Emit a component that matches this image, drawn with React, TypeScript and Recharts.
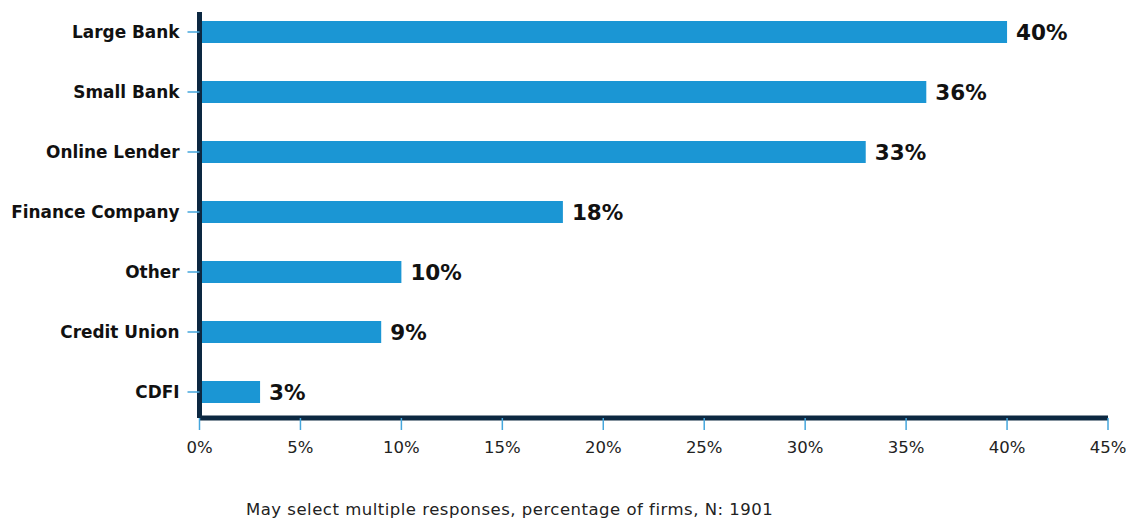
import React from 'react';
import { BarChart, Bar, XAxis, YAxis, LabelList } from 'recharts';

const categories = ['Large Bank', 'Small Bank', 'Online Lender', 'Finance Company', 'Other', 'Credit Union', 'CDFI'];
const shares = [40, 36, 33, 18, 10, 9, 3];
const xTicks = [0, 5, 10, 15, 20, 25, 30, 35, 40, 45];

const BAR_COLOR = '#1b96d4';
const AXIS_COLOR = '#0c2841';
const TICK_COLOR = '#45a6dc';
const FONT = '"DejaVu Sans", sans-serif';

const data = categories.map((name, i) => ({ name, value: shares[i] }));

export default function App() {
  return (
    <div style={{ position: 'relative', width: 1120, height: 510, fontFamily: FONT }}>
      <BarChart
        width={1120}
        height={450}
        data={data}
        layout="vertical"
        margin={{ top: 4, right: 20, left: 0, bottom: 0 }}
      >
        <Bar dataKey="value" fill={BAR_COLOR} barSize={22} isAnimationActive={false}>
          <LabelList
            dataKey="value"
            position="right"
            offset={9}
            formatter={(v: number) => `${v}%`}
            style={{ fontFamily: FONT, fontSize: 21.5, fontWeight: 700, fill: '#111' }}
          />
        </Bar>
        <XAxis
          type="number"
          domain={[0, 45]}
          ticks={xTicks}
          tickFormatter={(v: number) => `${v}%`}
          height={40}
          axisLine={{ stroke: AXIS_COLOR, strokeWidth: 5 }}
          tickLine={{ stroke: TICK_COLOR, strokeWidth: 1.5 }}
          tickSize={12}
          tickMargin={11}
          tick={{ fontFamily: FONT, fontSize: 16.5, fill: '#222' }}
        />
        <YAxis
          type="category"
          dataKey="name"
          width={191.5}
          padding={{ top: -10, bottom: -4 }}
          axisLine={{ stroke: AXIS_COLOR, strokeWidth: 5 }}
          tickLine={{ stroke: TICK_COLOR, strokeWidth: 1.5 }}
          tickSize={12}
          tickMargin={8}
          tick={{ fontFamily: FONT, fontSize: 16.9, fontWeight: 700, fill: '#111' }}
        />
      </BarChart>
      <div
        style={{
          position: 'absolute',
          left: 238,
          top: 492,
          fontSize: 16.5,
          letterSpacing: 0.5,
          color: '#222',
          whiteSpace: 'nowrap',
        }}
      >
        May select multiple responses, percentage of firms, N: 1901
      </div>
    </div>
  );
}
